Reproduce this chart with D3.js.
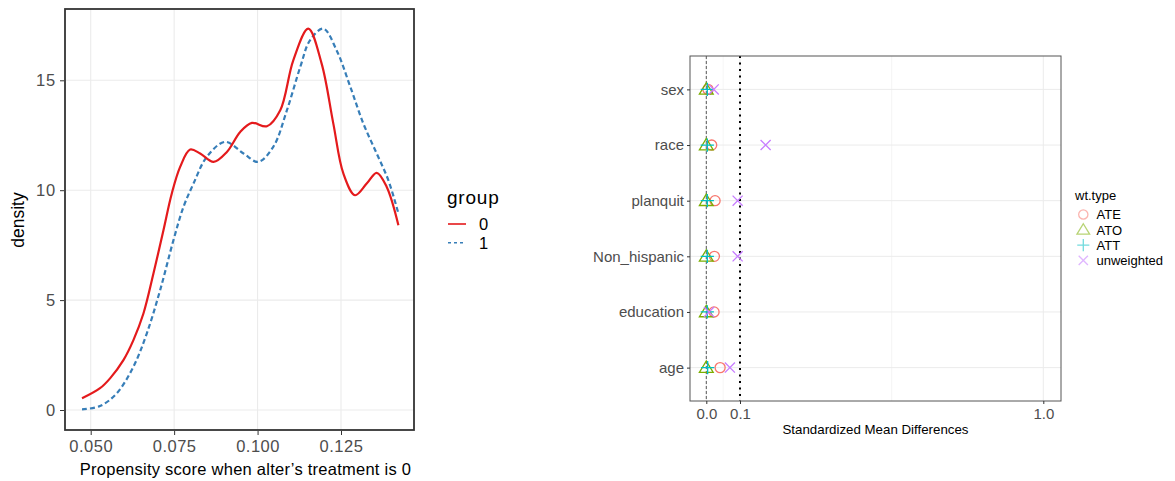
<!DOCTYPE html>
<html><head><meta charset="utf-8">
<script src="https://cdn.jsdelivr.net/npm/d3@7"></script>
<style>body{margin:0;background:#fff;} svg{display:block;font-family:"Liberation Sans",Arial,sans-serif;}</style>
</head><body>
<svg id="c" width="1175" height="481"></svg>
<script>
// ---- Left panel: density curves ----
const group0X = [0.0474,0.0528,0.0558,0.0598,0.0628,0.0658,0.0688,0.0718,0.0743,0.0768,0.0798,0.0828,0.0868,0.0908,0.0948,0.0983,0.1028,0.1068,0.1107,0.1152,0.1192,0.1227,0.1257,0.1292,0.1327,0.1357,0.1387,0.1422];
const group0Y = [0.53,0.99,1.44,2.27,3.18,4.39,6.21,8.18,9.85,11.06,11.85,11.67,11.29,11.74,12.65,13.06,12.91,13.64,15.91,17.35,15.76,13.03,10.76,9.77,10.30,10.79,10.15,8.41];
const group1X = [0.0474,0.0528,0.0578,0.0628,0.0668,0.0708,0.0748,0.0778,0.0808,0.0848,0.0903,0.0958,0.1002,0.1047,0.1088,0.1128,0.1157,0.1197,0.1237,0.1278,0.1317,0.1357,0.1392,0.1422];
const group1Y = [0.03,0.18,0.76,1.97,3.48,5.45,7.73,9.24,10.30,11.52,12.20,11.67,11.29,11.97,13.64,15.61,16.82,17.35,16.36,14.70,13.03,11.67,10.45,8.94];
const densXTicks = [0.050,0.075,0.100,0.125];
const densYTicks = [0,5,10,15];
const groups = ["0","1"];

// ---- Right panel: love plot ----
const covariates = ["sex","race","planquit","Non_hispanic","education","age"];
const wtTypes = ["ATE","ATO","ATT","unweighted"];
const smdATE = [0.005,0.016,0.026,0.024,0.023,0.041];
const smdATO = [0.0,0.0,0.0,0.0,0.0,0.0];
const smdATT = [0.003,0.003,0.003,0.003,0.003,0.004];
const smdUnweighted = [0.022,0.176,0.093,0.093,0.008,0.070];
const smdTicks = [0.0,0.1,1.0];
const smdTickLabels = ["0.0","0.1","1.0"];

const svg = d3.select("#c");
const grey = "#4D4D4D", gridC = "#EBEBEB";
const FF = "Liberation Sans, Arial, sans-serif";

// ===== Left panel =====
const L = {l:65, t:9, r:414, b:430};
const x1 = d3.scaleLinear().domain([0.050, 0.125]).range([90.7,341]);
const y1 = d3.scaleLinear().domain([0,15]).range([410,80.3]);
const gL = svg.append("g");
gL.selectAll(".vg").data(densXTicks).join("line").attr("x1",d=>x1(d)).attr("x2",d=>x1(d)).attr("y1",L.t).attr("y2",L.b).attr("stroke",gridC).attr("stroke-width",1.1);
gL.selectAll(".hg").data(densYTicks).join("line").attr("x1",L.l).attr("x2",L.r).attr("y1",d=>y1(d)).attr("y2",d=>y1(d)).attr("stroke",gridC).attr("stroke-width",1.1);
const line1 = d3.line().x(d=>x1(d[0])).y(d=>y1(d[1])).curve(d3.curveCatmullRom.alpha(0.5));
gL.append("path").datum(group1X.map((v,i)=>[v,group1Y[i]])).attr("d",line1).attr("fill","none").attr("stroke","#377EB8").attr("stroke-width",2.2).attr("stroke-dasharray","5,3");
gL.append("path").datum(group0X.map((v,i)=>[v,group0Y[i]])).attr("d",line1).attr("fill","none").attr("stroke","#E41A1C").attr("stroke-width",2.2);
gL.append("rect").attr("x",L.l).attr("y",L.t).attr("width",L.r-L.l).attr("height",L.b-L.t).attr("fill","none").attr("stroke","#333").attr("stroke-width",1.8);
// axes
const axB = d3.axisBottom(x1).tickValues(densXTicks).tickFormat(d3.format(".3f")).tickSize(4).tickSizeOuter(0);
const gxb = gL.append("g").attr("transform",`translate(0,${L.b+1})`).call(axB);
gxb.select(".domain").remove();
gxb.selectAll("line").attr("stroke","#333");
gxb.selectAll("text").attr("fill",grey).attr("font-size",16.5).attr("letter-spacing","0.5px").attr("font-family",FF).attr("y",null).attr("dy",null).attr("transform","translate(0,20.5)");
const axLft = d3.axisLeft(y1).tickValues(densYTicks).tickSize(4).tickSizeOuter(0);
const gyl = gL.append("g").attr("transform",`translate(${L.l-1},0)`).call(axLft);
gyl.select(".domain").remove();
gyl.selectAll("line").attr("stroke","#333");
gyl.selectAll("text").attr("fill",grey).attr("font-size",16.5).attr("letter-spacing","0.8px").attr("font-family",FF).attr("x",-8);
gL.append("text").attr("x",(L.l+L.r)/2 + 6).attr("y",475).attr("text-anchor","middle").attr("font-size",16.5).attr("letter-spacing","0.25px").attr("fill","#000").text("Propensity score when alter\u2019s treatment is 0");
gL.append("text").attr("transform",`translate(24,${220}) rotate(-90)`).attr("text-anchor","middle").attr("font-size",17.5).attr("fill","#000").text("density");
// legend
const lg = svg.append("g");
lg.append("text").attr("x",447).attr("y",204).attr("font-size",19).attr("letter-spacing","0.8px").attr("fill","#000").text("group");
const lgColors = ["#E41A1C","#377EB8"], lgDash = [null,"3,3"];
groups.forEach((g,i)=>{
  const yy = 224 + i*18.7;
  lg.append("line").attr("x1",448).attr("x2",466).attr("y1",yy).attr("y2",yy).attr("stroke",lgColors[i]).attr("stroke-width",1.6).attr("stroke-dasharray",lgDash[i]);
  lg.append("text").attr("x",479).attr("y",yy+6).attr("font-size",16.5).attr("fill","#000").text(g);
});

// ===== Right panel =====
const R = {l:690, t:56, r:1061, b:401};
const x2 = d3.scaleLinear().domain([0,1]).range([706.3,1043.3]);
const y2 = d3.scalePoint().domain(covariates).range([R.t,R.b]).padding(0.6);
const gR = svg.append("g");
const minorX = [0.05,0.55];
gR.selectAll(".mg").data(minorX).join("line").attr("x1",d=>x2(d)).attr("x2",d=>x2(d)).attr("y1",R.t).attr("y2",R.b).attr("stroke","#F3F3F3").attr("stroke-width",0.8);
gR.selectAll(".vg").data(smdTicks).join("line").attr("x1",d=>x2(d)).attr("x2",d=>x2(d)).attr("y1",R.t).attr("y2",R.b).attr("stroke",gridC).attr("stroke-width",1);
gR.selectAll(".hg").data(covariates).join("line").attr("x1",R.l).attr("x2",R.r).attr("y1",d=>y2(d)).attr("y2",d=>y2(d)).attr("stroke",gridC).attr("stroke-width",1);
// reference lines
gR.append("line").attr("x1",x2(0)).attr("x2",x2(0)).attr("y1",R.t).attr("y2",R.b).attr("stroke","#333").attr("stroke-width",0.8).attr("stroke-dasharray","3,2");
gR.append("line").attr("x1",x2(0.1)).attr("x2",x2(0.1)).attr("y1",R.t).attr("y2",R.b).attr("stroke","#000").attr("stroke-width",2).attr("stroke-dasharray","2,4.5");
// points
const ptColors = {ATE:"#F8766D",ATO:"#7CAE00",ATT:"#00BFC4",unweighted:"#C77CFF"};
const seriesVals = {ATE:smdATE,ATO:smdATO,ATT:smdATT,unweighted:smdUnweighted};
function sym(g,type,cx,cy,s,col,op){
  const a = g.append("g").attr("transform",`translate(${cx},${cy})`).attr("opacity",op);
  if(type==="ATE") a.append("circle").attr("r",s*0.42).attr("fill","none").attr("stroke",col).attr("stroke-width",1.3);
  else if(type==="ATO"){const h=s*0.5; a.append("path").attr("d",`M0,${-h*1.1}L${h*1.15},${h*0.8}L${-h*1.15},${h*0.8}Z`).attr("fill","none").attr("stroke",col).attr("stroke-width",1.3);}
  else if(type==="ATT"){const h=s*0.55; a.append("path").attr("d",`M${-h},0H${h}M0,${-h}V${h}`).attr("stroke",col).attr("stroke-width",1.3);}
  else {const h=s*0.42; a.append("path").attr("d",`M${-h},${-h}L${h},${h}M${-h},${h}L${h},${-h}`).attr("stroke",col).attr("stroke-width",1.3);}
}
covariates.forEach((c,i)=>{
  wtTypes.forEach(w=>{ sym(gR,w,x2(seriesVals[w][i]),y2(c),12,ptColors[w],1); });
});
gR.append("rect").attr("x",R.l).attr("y",R.t).attr("width",R.r-R.l).attr("height",R.b-R.t).attr("fill","none").attr("stroke","#555").attr("stroke-width",1);
const axB2 = d3.axisBottom(x2).tickValues(smdTicks).tickFormat((d,i)=>smdTickLabels[i]).tickSize(3).tickSizeOuter(0);
const gxb2 = gR.append("g").attr("transform",`translate(0,${R.b})`).call(axB2);
gxb2.select(".domain").remove();
gxb2.selectAll("line").attr("stroke","#333");
gxb2.selectAll("text").attr("fill",grey).attr("font-size",15).attr("font-family",FF).attr("y",null).attr("dy",null).attr("transform","translate(0,17.5)");
const axL2 = d3.axisLeft(y2).tickSize(3).tickSizeOuter(0);
const gyl2 = gR.append("g").attr("transform",`translate(${R.l},0)`).call(axL2);
gyl2.select(".domain").remove();
gyl2.selectAll("line").attr("stroke","#333");
gyl2.selectAll("text").attr("fill",grey).attr("font-size",15).attr("font-family",FF).attr("x",-6);
gR.append("text").attr("x",(R.l+R.r)/2).attr("y",434).attr("text-anchor","middle").attr("font-size",13.3).attr("fill","#000").text("Standardized Mean Differences");
// legend
const lg2 = svg.append("g");
lg2.append("text").attr("x",1075).attr("y",200).attr("font-size",13).attr("fill","#000").text("wt.type");
wtTypes.forEach((w,i)=>{
  const yy = 214.5 + i*15.3;
  sym(lg2,w,1083.3,yy,11,ptColors[w],0.55);
  lg2.append("text").attr("x",1096.5).attr("y",yy+4.8).attr("font-size",13).attr("fill","#000").text(w);
});
</script>
</body></html>
